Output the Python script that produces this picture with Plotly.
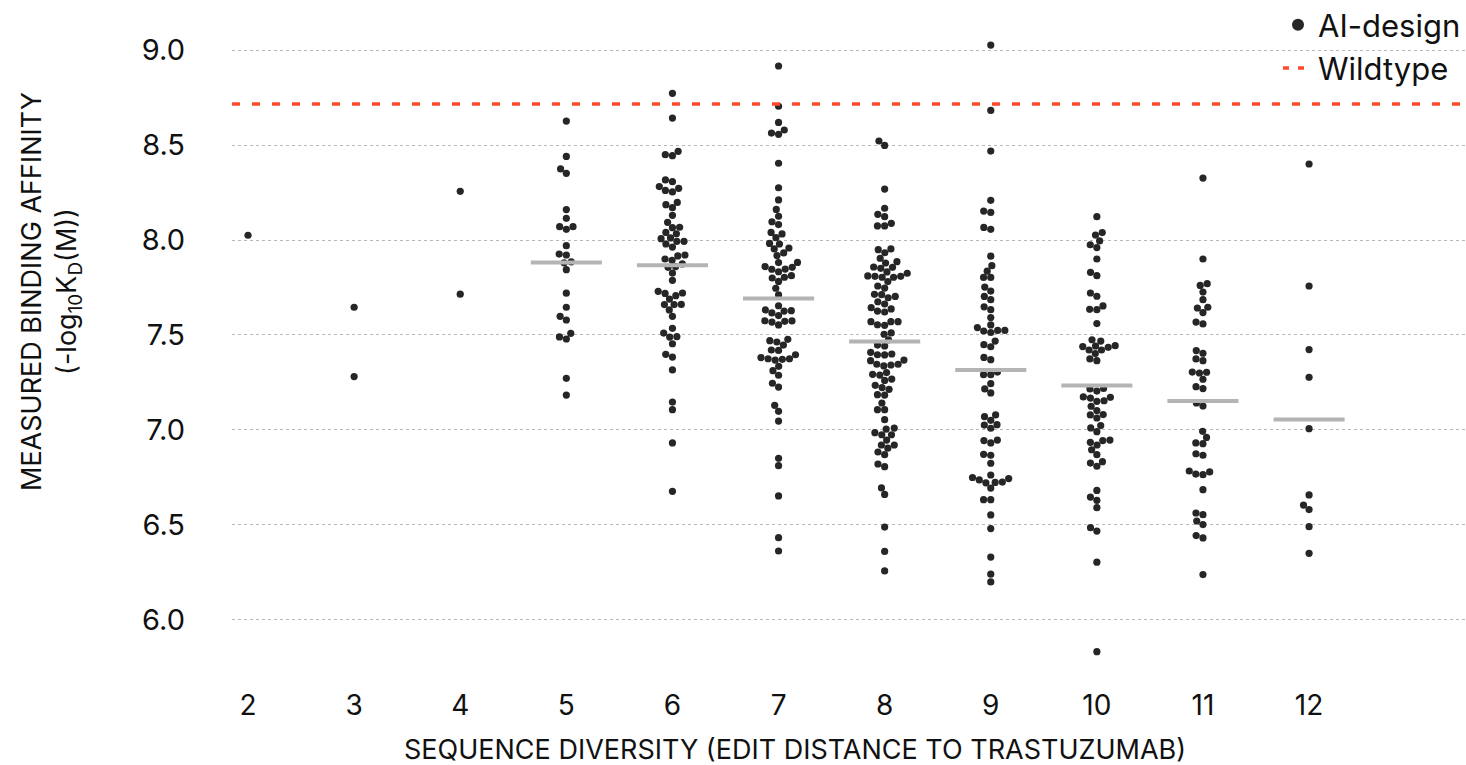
import math
import plotly.graph_objects as go

# ---------------- data ----------------
edit_distances = [2, 3, 4, 5, 6, 7, 8, 9, 10, 11, 12]

aff_d2 = [8.025]
aff_d3 = [7.646, 7.281]
aff_d4 = [8.256, 7.715]
aff_d5 = [8.626, 8.44, 8.374, 8.351, 8.16, 8.114, 8.07, 8.07, 8.056, 7.97, 7.926, 7.921,
          7.88, 7.885, 7.844, 7.72, 7.646, 7.598, 7.579, 7.509, 7.49, 7.479, 7.272, 7.184]
aff_d6 = [8.772, 8.642, 8.449, 8.444, 8.467, 8.316, 8.307, 8.261, 8.253, 8.272, 8.281,
          8.186, 8.17, 8.198, 8.13, 8.093, 8.067, 8.065, 8.04, 8.033, 8.007, 8.011, 7.993,
          7.993, 7.979, 7.963, 7.921, 7.9, 7.893, 7.916, 7.874, 7.856, 7.86, 7.826, 7.788,
          7.73, 7.719, 7.689, 7.707, 7.721, 7.66, 7.66, 7.632, 7.661, 7.598, 7.535, 7.491,
          7.489, 7.51, 7.454, 7.398, 7.384, 7.316, 7.147, 7.107, 6.932, 6.677]
aff_d7 = [8.916, 8.704, 8.619, 8.563, 8.556, 8.579, 8.404, 8.275, 8.211, 8.161, 8.125,
          8.096, 8.081, 8.032, 8.012, 8.04, 7.982, 7.979, 7.953, 7.958, 7.932, 7.918, 7.882,
          7.881, 7.86, 7.847, 7.833, 7.846, 7.856, 7.8, 7.804, 7.782, 7.812, 7.746, 7.711,
          7.654, 7.632, 7.616, 7.602, 7.626, 7.628, 7.575, 7.568, 7.553, 7.572, 7.574, 7.477,
          7.463, 7.47, 7.447, 7.419, 7.421, 7.381, 7.375, 7.368, 7.372, 7.375, 7.396, 7.335,
          7.312, 7.288, 7.246, 7.226, 7.13, 7.098, 7.047, 6.851, 6.812, 6.653, 6.433, 6.363]
aff_d8 = [8.521, 8.498, 8.268, 8.167, 8.135, 8.123, 8.074, 8.074, 8.088, 7.949, 7.933,
          7.953, 7.904, 7.886, 7.879, 7.856, 7.851, 7.858, 7.832, 7.809, 7.804, 7.825, 7.804,
          7.809, 7.811, 7.781, 7.758, 7.747, 7.703, 7.696, 7.712, 7.714, 7.663, 7.675, 7.626,
          7.621, 7.637, 7.644, 7.57, 7.554, 7.551, 7.57, 7.57, 7.511, 7.504, 7.474, 7.447,
          7.442, 7.409, 7.396, 7.395, 7.4, 7.365, 7.342, 7.337, 7.346, 7.346, 7.368, 7.302,
          7.289, 7.293, 7.268, 7.261, 7.223, 7.214, 7.235, 7.186, 7.184, 7.142, 7.107, 7.107,
          7.054, 7.01, 7.005, 6.986, 6.975, 6.975, 6.947, 6.921, 6.904, 6.921, 6.884, 6.87,
          6.821, 6.807, 6.695, 6.661, 6.489, 6.361, 6.258]
aff_d9 = [9.026, 8.682, 8.468, 8.209, 8.152, 8.145, 8.066, 8.056, 7.915, 7.865, 7.836,
          7.803, 7.803, 7.752, 7.731, 7.703, 7.686, 7.648, 7.633, 7.592, 7.553, 7.539, 7.521,
          7.513, 7.524, 7.524, 7.468, 7.449, 7.438, 7.382, 7.37, 7.305, 7.291, 7.291, 7.244,
          7.216, 7.195, 7.079, 7.07, 7.051, 7.026, 7.009, 7.028, 6.947, 6.932, 6.944, 6.872,
          6.867, 6.825, 6.763, 6.75, 6.737, 6.722, 6.724, 6.726, 6.744, 6.694, 6.633, 6.633,
          6.553, 6.481, 6.331, 6.241, 6.2]
aff_d10 = [8.123, 8.026, 8.039, 7.995, 7.975, 7.96, 7.9, 7.83, 7.812, 7.721, 7.704, 7.635,
           7.633, 7.653, 7.56, 7.468, 7.475, 7.439, 7.421, 7.442, 7.421, 7.435, 7.444, 7.402,
           7.374, 7.365, 7.216, 7.205, 7.219, 7.172, 7.168, 7.151, 7.154, 7.174, 7.125, 7.102,
           7.079, 7.063, 7.081, 7.011, 6.991, 7.023, 6.947, 6.935, 6.921, 6.944, 6.896, 6.87,
           6.826, 6.809, 6.833, 6.682, 6.647, 6.63, 6.591, 6.486, 6.468, 6.304, 5.833]
aff_d11 = [8.326, 7.9, 7.77, 7.761, 7.726, 7.686, 7.642, 7.618, 7.646, 7.568, 7.558, 7.418,
           7.404, 7.374, 7.365, 7.305, 7.3, 7.304, 7.267, 7.228, 7.218, 7.142, 7.126, 6.993,
           6.961, 6.932, 6.928, 6.875, 6.867, 6.784, 6.768, 6.765, 6.779, 6.686, 6.563, 6.554,
           6.521, 6.502, 6.444, 6.432, 6.239]
aff_d12 = [8.4, 7.758, 7.423, 7.277, 7.007, 6.658, 6.605, 6.581, 6.491, 6.351]

wildtype_affinity = 8.716

y_tick_vals = [6.0, 6.5, 7.0, 7.5, 8.0, 8.5, 9.0]
y_tick_text = ["6.0", "6.5", "7.0", "7.5", "8.0", "8.5", "9.0"]

columns = [aff_d2, aff_d3, aff_d4, aff_d5, aff_d6, aff_d7, aff_d8, aff_d9, aff_d10, aff_d11, aff_d12]

# ---------------- layout geometry ----------------
W, H = 1466, 765
M_L, M_R, M_T, M_B = 232, 0, 20, 85
X_RANGE = [1.849, 13.479]
Y_RANGE = [5.684, 9.158]
px_per_x = (W - M_L - M_R) / (X_RANGE[1] - X_RANGE[0])
px_per_y = (H - M_T - M_B) / (Y_RANGE[1] - Y_RANGE[0])
DOT = 7.2  # dot diameter in px


def swarm_offsets(values):
    """Simple beeswarm: place each point at the nearest free horizontal slot."""
    order = sorted(range(len(values)), key=lambda i: values[i])
    placed = []  # (x_px, y_px)
    offs = [0.0] * len(values)
    for i in order:
        y = values[i] * px_per_y
        near = [(px, py) for px, py in placed if abs(py - y) < DOT]
        cands = [0.0]
        for px, py in near:
            dx = math.sqrt(max(DOT ** 2 - (py - y) ** 2, 0.0))
            cands += [px + dx, px - dx]
        cands.sort(key=lambda c: (abs(c), c))
        for c in cands:
            if all((c - px) ** 2 + (y - py) ** 2 >= DOT ** 2 - 1e-6 for px, py in near):
                offs[i] = c
                placed.append((c, y))
                break
    return [o / px_per_x for o in offs]


fig = go.Figure()

xs, ys = [], []
for d, vals in zip(edit_distances, columns):
    for v, o in zip(vals, swarm_offsets(vals)):
        xs.append(d + o)
        ys.append(v)

INK = "#262626"
RED = "#ff4a2e"

fig.add_trace(go.Scatter(
    x=xs, y=ys, mode="markers", name="AI-design", showlegend=False,
    marker=dict(size=DOT, color=INK, line=dict(width=0)),
))

# mean bars
for d, vals in zip(edit_distances, columns):
    if len(vals) >= 5:
        m = sum(vals) / len(vals)
        fig.add_trace(go.Scatter(
            x=[d - 0.335, d + 0.335], y=[m, m], mode="lines",
            line=dict(color="#b4b4b4", width=4), showlegend=False, hoverinfo="skip",
        ))

# wildtype reference line
fig.add_shape(type="line", xref="paper", x0=0, x1=1, yref="y",
              y0=wildtype_affinity, y1=wildtype_affinity,
              line=dict(color=RED, width=3.5, dash="8px,12px"), layer="above")

# legend entries
fig.add_trace(go.Scatter(
    x=[None], y=[None], mode="markers", name="AI-design",
    marker=dict(size=12, color=INK),
))
fig.add_trace(go.Scatter(
    x=[None], y=[None], mode="lines", name="Wildtype",
    line=dict(color=RED, width=3.5, dash="6px,9px"),
))

FONT = "Inter"

fig.update_layout(
    width=W, height=H,
    margin=dict(l=M_L, r=M_R, t=M_T, b=M_B, autoexpand=False),
    paper_bgcolor="white", plot_bgcolor="white",
    font=dict(family=FONT, color="#111111"),
    showlegend=True,
    legend=dict(x=1.0, xanchor="right", y=1 + (M_T + 2) / (H - M_T - M_B), yanchor="top",
                bgcolor="rgba(0,0,0,0)", font=dict(size=31, family=FONT, color="#111111"),
                itemwidth=30, tracegroupgap=0),
    xaxis=dict(range=X_RANGE, tickvals=edit_distances, ticktext=[str(d) for d in edit_distances],
               showgrid=False, zeroline=False, showline=False, ticks="",
               tickfont=dict(size=28, family=FONT, color="#111111"), ticklabelstandoff=6),
    yaxis=dict(range=Y_RANGE, tickvals=y_tick_vals, ticktext=y_tick_text,
               showgrid=True, gridcolor="#b8b8b8", griddash="dot", gridwidth=1,
               zeroline=False, showline=False, ticks="",
               tickfont=dict(size=29, family=FONT, color="#111111"), ticklabelstandoff=46),
    annotations=[
        dict(text="SEQUENCE DIVERSITY (EDIT DISTANCE TO TRASTUZUMAB)",
             xref="paper", yref="paper",
             x=(795 - M_L) / (W - M_L - M_R), y=-(750 - (H - M_B)) / (H - M_T - M_B),
             xanchor="center", yanchor="middle", showarrow=False,
             font=dict(size=27, family=FONT, color="#111111")),
        dict(text="MEASURED BINDING AFFINITY<br>(-log<sub>10</sub>K<sub>D</sub>(M))",
             xref="paper", yref="paper",
             x=-(M_L - 51) / (W - M_L - M_R), y=((H - M_B) - 292) / (H - M_T - M_B),
             xanchor="center", yanchor="middle", showarrow=False, textangle=-90,
             font=dict(size=27, family=FONT, color="#111111")),
    ],
)

fig.write_html("out.html")
